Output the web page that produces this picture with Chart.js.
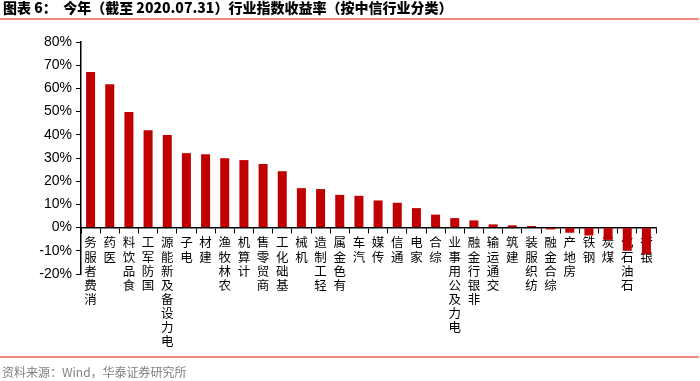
<!DOCTYPE html>
<html>
<head>
<meta charset="utf-8">
<script src="https://cdn.jsdelivr.net/npm/chart.js@4"></script>
<style>
  html, body { margin: 0; padding: 0; background: #fff; }
  #wrap { position: relative; width: 700px; height: 381px; overflow: hidden; background: #fff; }
  #title { position: absolute; left: 3px; top: -3px; font: 900 14px "Noto Sans CJK SC", sans-serif; color: #000; white-space: pre; }
  #line1 { position: absolute; left: 0; top: 18px; width: 699px; height: 2px; background: #F08A80; }
  #line2 { position: absolute; left: 0; top: 356px; width: 699px; height: 2px; background: #F08A80; }
  #source { position: absolute; left: 2px; top: 363px; font: 12px "Noto Sans CJK SC", sans-serif; color: #808080; white-space: pre; }
  canvas { position: absolute; left: 0; top: 0; }
</style>
</head>
<body>
<div id="wrap">
  <canvas id="c" width="700" height="381"></canvas>
  <div id="title">图表 6：  今年（截至 2020.07.31）行业指数收益率（按中信行业分类）</div>
  <div id="line1"></div>
  <div id="line2"></div>
  <div id="source">资料来源：Wind，华泰证券研究所</div>
</div>
<script>
const categories = ['消费者服务','医药','食品饮料','国防军工','电力设备及新能源','电子','建材','农林牧渔','计算机','商贸零售','基础化工','机械','轻工制造','有色金属','汽车','传媒','通信','家电','综合','电力及公用事业','非银行金融','交通运输','建筑','纺织服装','综合金融','房地产','钢铁','煤炭','石油石化','银行'];
const returns = [67.1,61.8,49.8,42.0,39.9,32.1,31.6,29.9,29.1,27.4,24.3,17.0,16.6,14.1,13.7,11.7,10.7,8.4,5.6,4.1,3.1,1.4,1.0,0.7,-0.8,-2.2,-3.4,-5.3,-10.0,-11.4];
const yTicks = [-20,-10,0,10,20,30,40,50,60,70,80];

const verticalLabels = categories.map(s => s.split('').reverse());

new Chart(document.getElementById('c'), {
  type: 'bar',
  data: {
    labels: verticalLabels,
    datasets: [{
      data: returns,
      backgroundColor: '#C00000',
      borderWidth: 0,
      barPercentage: 0.47,
      categoryPercentage: 1.0
    }]
  },
  options: {
    responsive: false,
    animation: false,
    events: [],
    layout: { padding: { top: 42, right: 44, bottom: 107, left: 0 } },
    plugins: { legend: { display: false }, tooltip: { enabled: false }, title: { display: false } },
    scales: {
      x: {
        position: { y: 0 },
        z: 1,
        grid: { display: true, drawOnChartArea: false, drawTicks: true, tickLength: 5, color: '#000', lineWidth: 1, offset: true },
        border: { display: true, color: '#000', width: 1.5 },
        ticks: {
          autoSkip: false, maxRotation: 0, minRotation: 0, padding: 3,
          color: '#000',
          font: { family: '"Noto Sans CJK SC", sans-serif', size: 12.5, lineHeight: 1.13 }
        }
      },
      y: {
        min: -20, max: 80,
        afterBuildTicks: s => { s.ticks = yTicks.map(v => ({ value: v })); },
        afterFit: s => { s.width = 81; },
        grid: { display: true, drawOnChartArea: false, drawTicks: true, tickLength: 5, color: '#000', lineWidth: 1 },
        border: { display: true, color: '#000', width: 1.5 },
        ticks: {
          padding: 4, color: '#000',
          font: { family: '"Liberation Sans", Arial, sans-serif', size: 14 },
          callback: v => v + '%'
        }
      }
    }
  }
});
</script>
</body>
</html>
